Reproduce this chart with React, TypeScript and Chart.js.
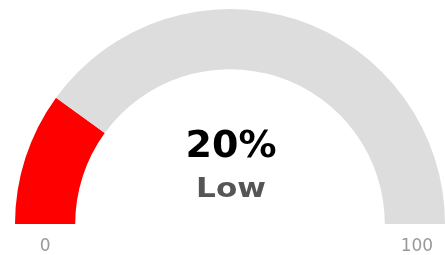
import React, { useEffect, useRef } from "react";
import { Chart, registerables } from "chart.js";

Chart.register(...registerables);

const value = 20;
const maxValue = 100;
const segmentValues = [value, maxValue - value];
const segmentColors = ["#ff0000", "#dddddd"];
const centerLabel = "20%";
const subLabel = "Low";
const minLabel = "0";
const maxLabel = "100";

const gaugeText = {
  id: "gaugeText",
  afterDraw(chart: any) {
    const meta = chart.getDatasetMeta(0);
    const arc = meta.data[0];
    if (!arc) return;
    const { x, y, outerRadius, innerRadius } = arc.getProps(["x", "y", "outerRadius", "innerRadius"], true);
    const ctx = chart.ctx;
    ctx.save();
    ctx.textAlign = "center";
    ctx.textBaseline = "alphabetic";
    ctx.fillStyle = "#000000";
    ctx.font = "bold 38px 'DejaVu Sans'";
    ctx.fillText(centerLabel, x + 1, y - 67);
    ctx.save();
    ctx.fillStyle = "#555555";
    ctx.font = "bold 27px 'DejaVu Sans'";
    ctx.translate(x + 1, y - 27);
    ctx.scale(1.15, 1);
    ctx.fillText(subLabel, 0, 0);
    ctx.restore();
    ctx.fillStyle = "#999999";
    ctx.font = "17px 'DejaVu Sans'";
    const mid = (outerRadius + innerRadius) / 2;
    ctx.fillText(minLabel, x - mid, y + 27);
    ctx.fillText(maxLabel, x + mid + 2, y + 27);
    ctx.restore();
  },
};

export default function App() {
  const ref = useRef<HTMLCanvasElement>(null);
  useEffect(() => {
    if (!ref.current) return;
    const chart = new Chart(ref.current, {
      type: "doughnut",
      data: {
        labels: ["Value", "Remaining"],
        datasets: [
          {
            data: segmentValues,
            backgroundColor: segmentColors,
            borderWidth: 0,
          },
        ],
      },
      options: {
        animation: false,
        responsive: false,
        rotation: -90,
        circumference: 180,
        cutout: "72%",
        layout: { padding: { left: 15, right: 0, top: 9, bottom: 31 } },
        plugins: { legend: { display: false }, tooltip: { enabled: false } },
      },
      plugins: [gaugeText],
    });
    return () => chart.destroy();
  }, []);
  return (
    <div style={{ position: "fixed", left: 0, top: 0, width: 445, height: 255, background: "#fff" }}>
      <canvas ref={ref} width={445} height={255} style={{ width: 445, height: 255, display: "block" }} />
    </div>
  );
}
